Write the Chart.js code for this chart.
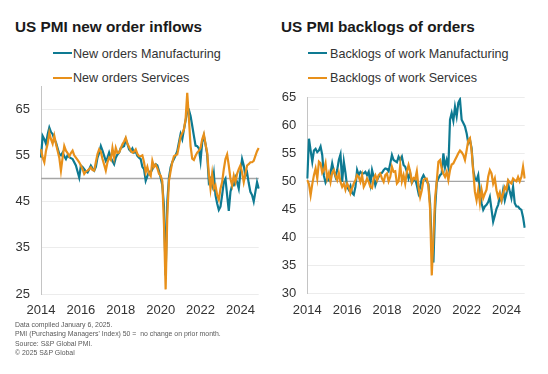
<!DOCTYPE html>
<html>
<head>
<meta charset="utf-8">
<script src="https://cdn.jsdelivr.net/npm/chart.js@4"></script>
<style>
  html, body { margin: 0; padding: 0; background: #fff; }
  body { width: 548px; height: 374px; position: relative; overflow: hidden;
         font-family: "Liberation Sans", Arial, sans-serif; color: #262626; }
  canvas { position: absolute; top: 0; }
  .title { position: absolute; top: 18.7px; font-size: 15.3px; font-weight: bold; line-height: 1; color: #1a1a1a; white-space: nowrap; }
  .key { position: absolute; height: 2px; width: 19px; }
  .keytext { position: absolute; font-size: 12.6px; line-height: 1; color: #333; white-space: nowrap; }
  .notes { position: absolute; left: 15px; top: 320px; font-size: 6.9px; line-height: 9.4px; color: #595959; white-space: nowrap; }
</style>
</head>
<body>
<div class="title" style="left:15px">US PMI new order inflows</div>
<div class="title" style="left:281px">US PMI backlogs of orders</div>

<div class="key" style="left:53px;top:52.3px;background:#0e7a92"></div>
<div class="keytext" style="left:73px;top:47.6px">New orders Manufacturing</div>
<div class="key" style="left:53px;top:76.7px;background:#e8901a"></div>
<div class="keytext" style="left:73px;top:72px">New orders Services</div>

<div class="key" style="left:308px;top:52.3px;background:#0e7a92"></div>
<div class="keytext" style="left:330px;top:47.6px">Backlogs of work Manufacturing</div>
<div class="key" style="left:308px;top:76.7px;background:#e8901a"></div>
<div class="keytext" style="left:330px;top:72px">Backlogs of work Services</div>

<canvas id="left" width="274" height="374" style="left:0"></canvas>
<canvas id="right" width="274" height="374" style="left:274px"></canvas>

<div class="notes">
  Data compiled January 6, 2025.<br>
  PMI (Purchasing Managers' Index) 50 =&nbsp; no change on prior month.<br>
  Source: S&amp;P Global PMI.<br>
  © 2025 S&amp;P Global
</div>

<script>
// monthly readings, Jan 2014 .. Dec 2024 (one row per year)
const newOrdersMfg = [
  54.5, 59.2, 58.5, 57.5, 59.5, 61.0, 60.0, 59.6, 58.5, 57.8, 56.5, 55.3,
  55.0, 55.6, 54.8, 54.2, 55.0, 54.6, 54.4, 54.2, 53.5, 52.8, 51.5, 50.2,
  52.8, 52.5, 52.0, 51.5, 51.3, 52.0, 52.8, 52.2, 51.7, 52.5, 54.5, 55.5,
  57.0, 56.0, 54.9, 53.8, 54.5, 55.6, 54.5, 53.8, 53.1, 54.5, 55.2, 55.6,
  56.6, 56.8, 57.0, 58.5, 57.5, 56.3, 55.9, 56.5, 55.6, 55.8, 54.9, 54.5,
  54.2, 52.5, 52.0, 49.5, 50.5, 51.5, 51.3, 52.0, 52.8, 53.1, 52.8, 51.6,
  50.2, 48.5, 44.0, 29.0, 45.0, 50.2, 52.4, 53.5, 54.2, 55.0, 55.9, 57.8,
  59.6, 58.5, 60.6, 62.5, 64.5, 64.8, 63.5, 61.4, 59.2, 57.1, 57.0, 56.5,
  53.8, 57.8, 59.2, 57.4, 55.2, 49.2, 49.9, 48.5, 51.0, 46.4, 44.6, 43.2,
  43.9, 46.4, 49.2, 49.9, 46.4, 43.0, 47.1, 48.5, 48.5, 50.2, 49.2, 47.8,
  51.3, 54.2, 52.8, 50.6, 51.3, 49.0, 47.1, 46.4, 45.0, 47.1, 49.2, 47.8
];
const newOrdersSvc = [
  56.3, 54.5, 53.5, 56.0, 57.5, 59.9, 58.5, 57.5, 59.2, 57.5, 56.0, 54.5,
  51.7, 54.5, 57.0, 56.0, 55.5, 54.8, 55.5, 56.0, 55.0, 54.5, 54.0, 53.5,
  52.8, 52.0, 51.0, 51.5, 51.7, 52.0, 52.4, 51.8, 51.7, 53.5, 55.3, 56.3,
  55.8, 54.2, 53.0, 51.7, 53.5, 54.5, 54.0, 56.6, 54.5, 56.6, 55.5, 55.6,
  56.5, 57.4, 58.0, 58.8, 57.5, 56.8, 56.0, 55.6, 55.8, 56.3, 55.3, 54.8,
  54.8, 55.0, 53.5, 51.3, 52.5, 51.0, 50.5, 53.8, 52.5, 53.0, 52.2, 51.0,
  50.6, 49.4, 40.0, 26.0, 42.0, 49.5, 51.6, 53.5, 54.8, 55.0, 55.2, 57.0,
  59.0, 59.8, 60.6, 62.8, 68.5, 63.0, 57.0, 54.3, 54.0, 54.9, 55.6, 56.0,
  56.6, 58.5, 59.6, 57.4, 55.6, 51.0, 47.8, 51.0, 47.8, 48.5, 46.4, 45.4,
  47.8, 49.2, 52.0, 54.2, 55.2, 52.8, 49.9, 48.5, 50.6, 49.2, 51.0, 52.0,
  52.8, 51.3, 49.2, 51.0, 52.8, 53.1, 53.5, 53.5, 53.8, 54.9, 55.9, 56.6
];
const backlogsMfg = [
  50.5, 57.6, 55.5, 53.5, 55.5, 55.8, 55.2, 55.5, 56.2, 54.7, 51.0, 49.8,
  50.5, 50.2, 51.5, 53.2, 51.8, 50.8, 52.0, 53.8, 54.8, 49.9, 53.5, 51.5,
  49.0, 48.5, 49.2, 47.9, 47.6, 49.0, 52.0, 51.1, 51.7, 51.4, 51.4, 51.7,
  51.1, 51.7, 49.6, 52.0, 50.8, 49.3, 50.2, 50.8, 51.4, 51.5, 52.0, 52.3,
  52.2, 51.8, 53.2, 54.7, 53.8, 53.6, 53.4, 54.4, 53.8, 54.4, 52.9, 52.6,
  51.7, 50.5, 51.4, 49.7, 50.2, 50.5, 49.3, 47.9, 49.0, 50.5, 51.1, 50.5,
  50.0, 49.5, 46.0, 38.0, 35.5, 45.0, 49.8, 50.5, 51.1, 51.4, 55.0, 52.5,
  53.8, 52.5, 61.0, 62.2, 60.8, 63.3, 61.6, 64.0, 64.6, 61.0, 60.4, 59.8,
  58.6, 56.8, 57.4, 55.9, 52.0, 50.5, 50.2, 51.1, 48.1, 46.1, 44.9, 45.5,
  45.8, 46.3, 47.2, 45.0, 42.8, 43.9, 45.1, 45.8, 47.2, 46.5, 48.4, 46.6,
  47.8, 49.6, 48.2, 47.0, 49.0, 46.1, 45.5, 45.5, 45.1, 44.9, 43.6, 41.7
];
const backlogsSvc = [
  50.2, 49.5, 47.5, 49.5, 51.1, 52.3, 50.5, 53.5, 53.2, 51.5, 52.0, 53.2,
  50.5, 51.5, 49.9, 51.5, 52.0, 51.0, 50.2, 51.5, 49.9, 49.0, 49.6, 48.5,
  49.6, 49.0, 47.9, 48.8, 49.6, 50.2, 51.1, 50.8, 49.9, 51.1, 49.0, 49.6,
  50.5, 49.9, 49.0, 48.8, 50.5, 51.1, 50.2, 51.1, 51.4, 50.5, 49.9, 51.1,
  51.4, 50.0, 50.8, 52.6, 51.7, 51.8, 49.6, 50.0, 52.9, 50.0, 51.1, 49.6,
  51.7, 52.9, 51.7, 49.8, 50.6, 50.4, 51.8, 49.0, 47.2, 48.4, 50.2, 50.5,
  50.5, 49.0, 45.0, 33.2, 40.0, 47.0, 50.0, 53.5, 53.8, 52.3, 51.4, 50.8,
  51.7, 50.2, 52.0, 53.0, 53.2, 53.8, 54.4, 55.0, 55.5, 55.2, 54.7, 53.8,
  55.5, 57.3, 57.7, 55.5, 51.7, 48.1, 46.6, 48.5, 46.1, 48.5, 47.0, 47.8,
  48.5, 50.8, 52.0, 51.4, 49.6, 50.5, 48.4, 47.2, 48.0, 46.6, 47.8, 49.0,
  48.5, 50.2, 49.8, 49.6, 50.5, 50.2, 50.0, 50.8, 50.0, 50.8, 52.6, 50.5
];

const firstYear = 2014;
const yearTicks = ["2014", "2016", "2018", "2020", "2022", "2024"];
const leftYTicks = [25, 35, 45, 55, 65];
const rightYTicks = [30, 35, 40, 45, 50, 55, 60, 65];
const noChange = 50;

const TEAL = "#0e7a92";
const ORANGE = "#e8901a";

const months = newOrdersMfg.map((v, i) => `${firstYear + Math.floor(i / 12)}-${(i % 12) + 1}`);

function makeChart(id, mfg, svc, yMin, yMax, yTicks, area) {

  const ctx = document.getElementById(id);

  return new Chart(ctx, {
    type: "line",
    data: {
      labels: months,
      datasets: [
        { data: svc, borderColor: ORANGE, borderWidth: 2.2, order: 0 },
        { data: mfg, borderColor: TEAL, borderWidth: 2.2, order: 1 },
        // the 50 "no change" line
        { data: months.map(() => noChange), borderColor: "#a6a6a6", borderWidth: area.refWidth, order: 2 },
      ],
    },
    options: {
      responsive: false,
      animation: false,
      devicePixelRatio: 1,
      elements: { point: { radius: 0 }, line: { tension: 0 } },
      layout: { padding: { top: area.top, bottom: area.bottom, left: 0, right: area.right } },
      plugins: { legend: { display: false }, tooltip: { enabled: false } },
      scales: {
        x: {
          type: "category",
          offset: false,
          grid: { display: false, drawTicks: false },
          border: { display: false },
          afterFit: s => { s.height = 24; },
          ticks: {
            autoSkip: false,
            maxRotation: 0,
            padding: 9,
            color: "#333",
            font: { size: 13, family: "'Liberation Sans', Arial, sans-serif" },
            callback: function (value, index) {
              // label every other January
              if (index % 24 === 0) {
                return yearTicks[index / 24];
              }
              return null;
            },
          },
        },
        y: {
          min: yMin,
          max: yMax,
          afterFit: s => { s.width = area.left; },
          afterBuildTicks: s => { s.ticks = yTicks.map(v => ({ value: v })); },
          grid: { color: "#ececec", lineWidth: 1, drawTicks: false },
          border: { display: true, color: "#c4c4c4", width: 1 },
          ticks: {
            padding: 11,
            color: "#333",
            font: { size: 13, family: "'Liberation Sans', Arial, sans-serif" },
          },
        },
      },
    },
  });
}

makeChart("left", newOrdersMfg, newOrdersSvc, 25, 70, leftYTicks,
  { top: 86, bottom: 56, left: 41, right: 15.3, refWidth: 1.6 });
makeChart("right", backlogsMfg, backlogsSvc, 30, 65, rightYTicks,
  { top: 97.3, bottom: 56.7, left: 33.3, right: 23.3, refWidth: 1.2 });
</script>
</body>
</html>
